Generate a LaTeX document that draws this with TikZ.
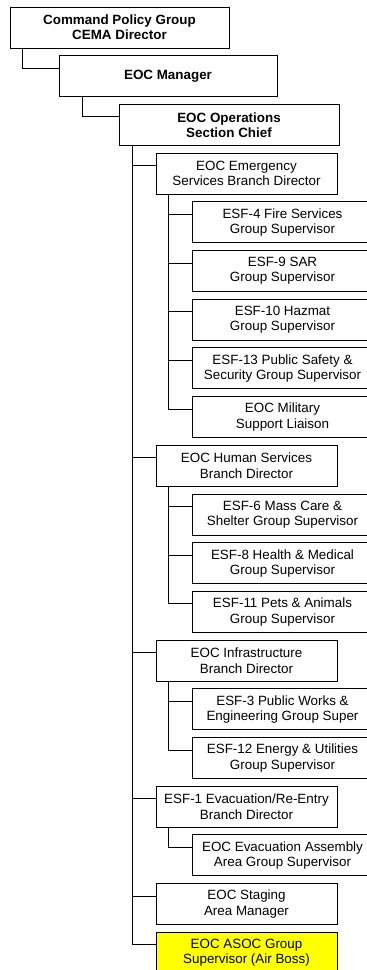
\documentclass[tikz,border=0pt]{standalone}
\usepackage{fontspec}
\setmainfont{Liberation Sans}
\usepackage{tikz}
\usetikzlibrary{positioning}
\definecolor{airyellow}{HTML}{FFFF00}
\tikzset{
	post/.style={
		draw,
		line width=0.9pt,
		align = center,
		minimum width=181pt,
		minimum height=41pt,
		inner sep=1pt,
		outer sep=0pt,
		font={\fontsize{13.4pt}{15.3pt}\selectfont}
	},
	chief/.append style={
		font={\fontsize{13.4pt}{15.3pt}\selectfont\bfseries}
	},
	airboss/.append style={
		fill=airyellow
	},
	link/.append style={
		line width=0.9pt
	}
}

\begin{document}
\begin{tikzpicture}[node distance=7.7pt and 36pt]
		\useasboundingbox (0,0) rectangle (367pt,-970pt);
		\clip (0,0) rectangle (367pt,-970pt);
		
		\node(cpg)[post, chief, minimum width=219pt, anchor=north west] at (10pt,-7pt) {Command Policy Group\\CEMA Director};
		\node(mgr)[post, chief, minimum width=218pt, below right=7.7pt and 49pt of cpg.south west]{EOC Manager};
		\node(ops)[post, chief, minimum width=220pt, below right=7.7pt and 60pt of mgr.south west]{EOC Operations\\Section Chief};
		
		\node(ems)[post, below right=7.7pt and 37pt of ops.south west]{EOC Emergency\\Services Branch Director};
		\node(esf4)[post, below right=of ems.south west]{ESF-4 Fire Services\\Group Supervisor};
		\node(esf9)[post, below=of esf4]{ESF-9 SAR\\Group Supervisor};
		\node(esf10)[post, below=of esf9]{ESF-10 Hazmat\\Group Supervisor};
		\node(esf13)[post, below=of esf10]{ESF-13 Public Safety \&\\Security Group Supervisor};
		\node(mil)[post, below=of esf13]{EOC Military\\Support Liaison};
		
		\node(hum)[post, below right=7.7pt and -36pt of mil.south west]{EOC Human Services\\Branch Director};
		\node(esf6)[post, below right=of hum.south west]{ESF-6 Mass Care \&\\Shelter Group Supervisor};
		\node(esf8)[post, below=of esf6]{ESF-8 Health \& Medical\\Group Supervisor};
		\node(esf11)[post, below=of esf8]{ESF-11 Pets \& Animals\\Group Supervisor};
		
		\node(inf)[post, below right=7.7pt and -36pt of esf11.south west]{EOC Infrastructure\\Branch Director};
		\node(esf3)[post, below right=of inf.south west]{ESF-3 Public Works \&\\Engineering Group Super};
		\node(esf12)[post, below=of esf3]{ESF-12 Energy \& Utilities\\Group Supervisor};
		
		\node(evac)[post, below right=7.7pt and -36pt of esf12.south west]{ESF-1 Evacuation/Re-Entry\\Branch Director};
		\node(assembly)[post, below right=of evac.south west]{EOC Evacuation Assembly\\Area Group Supervisor};
		
		\node(stage)[post, below right=7.7pt and -36pt of assembly.south west]{EOC Staging\\Area Manager};
		\node(asoc)[post, airboss, below=of stage]{EOC ASOC Group\\Supervisor (Air Boss)};
		
		\draw[link] ([xshift=12pt]cpg.south west) |- ([yshift=8pt]mgr.west);
		\draw[link] ([xshift=23pt]mgr.south west) |- ([yshift=8pt]ops.west);
		
		\foreach \unit in {ems, hum, inf, evac, stage, asoc}{
			\draw[link] ([xshift=13pt]ops.south west) |- ([yshift=8pt]\unit.west);
		};
		
		\foreach \boss/\unit in {ems/esf4, ems/esf9, ems/esf10, ems/esf13, ems/mil, hum/esf6, hum/esf8, hum/esf11, inf/esf3, inf/esf12, evac/assembly}{
			\draw[link] ([xshift=12pt]\boss.south west) |- ([yshift=8pt]\unit.west);
		};
		
\end{tikzpicture}
\end{document}
